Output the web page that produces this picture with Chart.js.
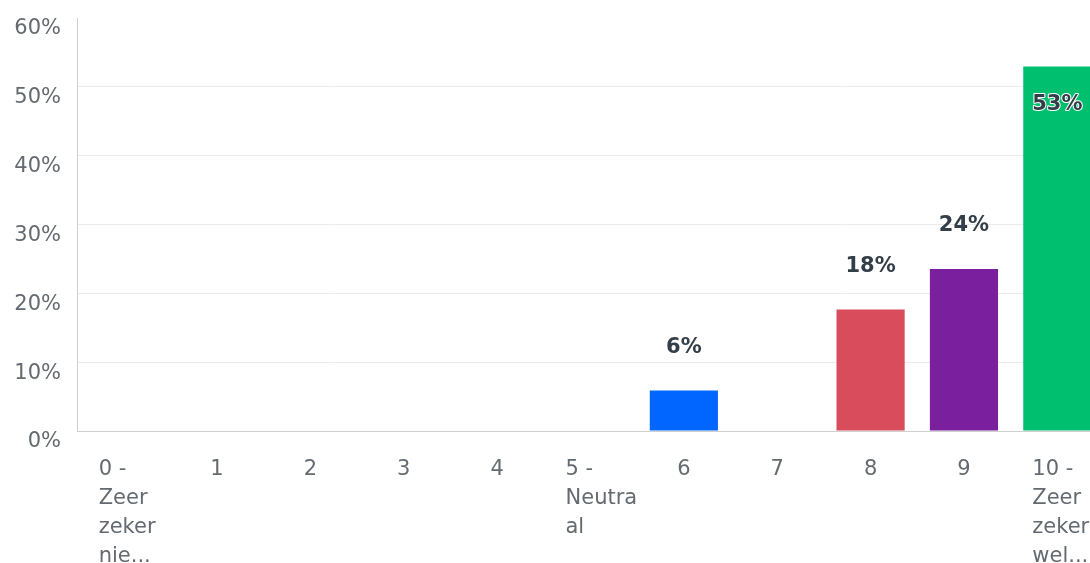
<!DOCTYPE html>
<html lang="nl">
<head>
  <meta charset="UTF-8" />
  <title>Score verdeling</title>
  <script src="https://cdn.jsdelivr.net/npm/chart.js@4"></script>
  <style>
    html, body { margin: 0; padding: 0; background: #fff; overflow: hidden; }
    #wrap { width: 1104px; height: 600px; position: relative; }
  </style>
</head>
<body>
  <div id="wrap"><canvas id="scoreChart"></canvas></div>

  <script>
    // antwoordcategorieen (score 0 t/m 10)
    const categories = ["0", "1", "2", "3", "4", "5", "6", "7", "8", "9", "10"];
    // labels onder de as, per regel
    const categoryLines = [
      ["0 -", "Zeer", "zeker", "nie..."],
      ["1"], ["2"], ["3"], ["4"],
      ["5 -", "Neutra", "al"],
      ["6"], ["7"], ["8"], ["9"],
      ["10 -", "Zeer", "zeker", "wel..."]
    ];
    // percentage respondenten
    const percentValues = [0, 0, 0, 0, 0, 0, 5.88, 0, 17.65, 23.53, 52.94];
    const barColors = ["#00bf6f", "#00bf6f", "#00bf6f", "#00bf6f", "#00bf6f", "#00bf6f",
                       "#0066ff", "#00bf6f", "#d94c5b", "#7a1f9e", "#00bf6f"];
    const yTicks = [0, 10, 20, 30, 40, 50, 60];

    const FONT = '"DejaVu Sans", sans-serif';
    const GREY = "#646a6f";

    // categorie-labels links uitgelijnd in een smal blok
    const xLabels = {
      id: "xLabels",
      afterDraw(chart) {
        const ctx = chart.ctx;
        const xs = chart.scales.x;
        ctx.save();
        ctx.font = "21px " + FONT;
        ctx.fillStyle = GREY;
        ctx.textAlign = "left";
        ctx.textBaseline = "middle";
        categoryLines.forEach((lines, i) => {
          const cx = xs.getPixelForValue(i);
          const w = Math.min(Math.max(...lines.map(l => ctx.measureText(l).width)), 50);
          lines.forEach((line, k) => {
            ctx.fillText(line, cx - w / 2, xs.top + 39 + k * 29);
          });
        });
        ctx.restore();
      }
    };

    // percentages boven (of in) de staven
    const valueLabels = {
      id: "valueLabels",
      afterDatasetsDraw(chart) {
        const ctx = chart.ctx;
        const meta = chart.getDatasetMeta(0);
        ctx.save();
        ctx.font = "bold 21px " + FONT;
        ctx.textAlign = "center";
        ctx.textBaseline = "middle";
        meta.data.forEach((bar, i) => {
          const v = percentValues[i];
          if (!v) return;
          const txt = Math.round(v) + "%";
          let y = bar.y - 43;
          const inside = y - 12 < chart.chartArea.top;
          if (inside) {
            y = bar.y + 38;
            ctx.strokeStyle = "#ffffff";
            ctx.lineWidth = 2;
            ctx.lineJoin = "round";
            ctx.strokeText(txt, bar.x, y);
          }
          ctx.fillStyle = "#333e48";
          ctx.fillText(txt, bar.x, y);
        });
        ctx.restore();
      }
    };

    new Chart(document.getElementById("scoreChart"), {
      type: "bar",
      data: {
        labels: categories,
        datasets: [{
          data: percentValues,
          backgroundColor: barColors,
          barPercentage: 0.73,
          categoryPercentage: 1
        }]
      },
      options: {
        responsive: true,
        maintainAspectRatio: false,
        animation: false,
        layout: { padding: { top: 18, left: 0, right: 0, bottom: 0 } },
        plugins: { legend: { display: false }, tooltip: { enabled: false } },
        scales: {
          x: {
            grid: { display: false },
            border: { display: true, color: "#cfcfcf", width: 1 },
            ticks: { display: false },
            afterFit: s => { s.height = 169; }
          },
          y: {
            min: 0,
            max: 60,
            afterBuildTicks: s => { s.ticks = yTicks.map(v => ({ value: v })); },
            afterFit: s => { s.width = 77; s.paddingTop = 0; s.paddingBottom = 0; },
            border: { display: true, color: "#cfcfcf", width: 1 },
            grid: {
              drawTicks: false,
              color: c => (c.tick && (c.tick.value === 0 || c.tick.value === 60)) ? "rgba(0,0,0,0)" : "#ebebeb"
            },
            ticks: {
              padding: 16,
              labelOffset: 11,
              color: GREY,
              font: { family: FONT, size: 21 },
              callback: v => v + "%"
            }
          }
        }
      },
      plugins: [xLabels, valueLabels]
    });
  </script>
</body>
</html>
